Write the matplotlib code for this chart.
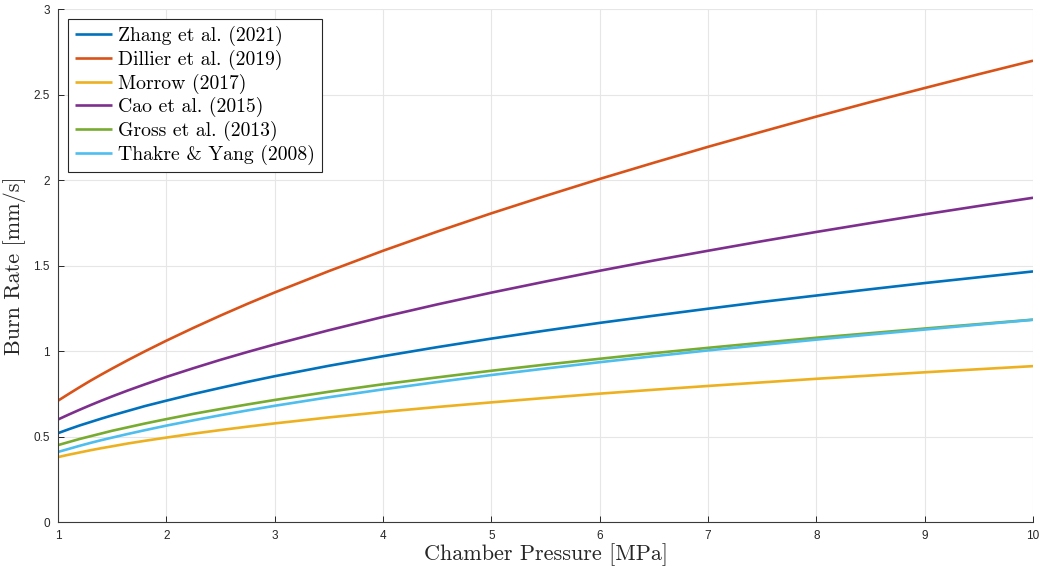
import matplotlib
matplotlib.use("Agg")
import matplotlib.pyplot as plt
from matplotlib.ticker import FuncFormatter

pressure = [1, 1.1, 1.2, 1.3, 1.4, 1.5, 1.65, 1.8, 2, 2.25, 2.5, 2.75, 3, 3.5, 4,
            4.5, 5, 5.5, 6, 6.5, 7, 7.5, 8, 8.5, 9, 9.5, 10]

zhang = [0.520, 0.543, 0.565, 0.585, 0.605, 0.624, 0.651, 0.678, 0.710, 0.749,
         0.785, 0.820, 0.853, 0.914, 0.970, 1.023, 1.073, 1.120, 1.165, 1.207,
         1.248, 1.288, 1.325, 1.362, 1.398, 1.432, 1.466]
dillier = [0.710, 0.750, 0.789, 0.827, 0.863, 0.898, 0.949, 0.998, 1.061, 1.136,
           1.208, 1.277, 1.343, 1.468, 1.587, 1.699, 1.806, 1.908, 2.007, 2.102,
           2.195, 2.284, 2.372, 2.457, 2.539, 2.620, 2.699]
morrow = [0.380, 0.394, 0.407, 0.420, 0.432, 0.443, 0.460, 0.475, 0.494, 0.517,
          0.538, 0.558, 0.577, 0.612, 0.644, 0.673, 0.700, 0.726, 0.751, 0.774,
          0.796, 0.817, 0.838, 0.857, 0.876, 0.894, 0.912]
cao = [0.600, 0.629, 0.657, 0.684, 0.710, 0.735, 0.771, 0.805, 0.849, 0.900,
       0.949, 0.995, 1.039, 1.122, 1.200, 1.273, 1.342, 1.407, 1.470, 1.530,
       1.587, 1.643, 1.697, 1.749, 1.800, 1.849, 1.897]
gross = [0.450, 0.468, 0.486, 0.502, 0.518, 0.534, 0.555, 0.576, 0.602, 0.633,
         0.661, 0.688, 0.714, 0.762, 0.806, 0.846, 0.885, 0.921, 0.955, 0.988,
         1.019, 1.049, 1.078, 1.105, 1.132, 1.158, 1.184]
thakre = [0.410, 0.428, 0.446, 0.463, 0.479, 0.494, 0.516, 0.537, 0.564, 0.595,
          0.625, 0.653, 0.680, 0.730, 0.776, 0.819, 0.860, 0.898, 0.935, 0.970,
          1.004, 1.036, 1.067, 1.097, 1.126, 1.155, 1.183]

labels = ["Zhang et al. (2021)", "Dillier et al. (2019)", "Morrow (2017)",
          "Cao et al. (2015)", "Gross et al. (2013)", "Thakre & Yang (2008)"]
colors = ["#0072BD", "#D95319", "#EDB120", "#7E2F8E", "#77AC30", "#4DBEEE"]
series = [zhang, dillier, morrow, cao, gross, thakre]

x_ticks = [1, 2, 3, 4, 5, 6, 7, 8, 9, 10]
y_ticks = [0, 0.5, 1, 1.5, 2, 2.5, 3]

plt.rcParams['font.family'] = ['Liberation Sans', 'DejaVu Sans']
SERIF = ['cmr10', 'DejaVu Serif']

fig = plt.figure(figsize=(10.42, 5.66), dpi=100)
ax = fig.add_axes([0.0557, 0.0777, 0.9357, 0.906])

for ys, lab, c in zip(series, labels, colors):
    ax.plot(pressure, ys, color=c, linewidth=1.9, label=lab,
            solid_capstyle='butt', solid_joinstyle='round')

ax.set_xlim(1, 10)
ax.set_ylim(0, 3)
ax.set_xticks(x_ticks)
ax.set_yticks(y_ticks)
ax.yaxis.set_major_formatter(FuncFormatter(lambda v, p: f"{v:g}"))
ax.grid(True, color='#e6e6e6', linewidth=0.8)
ax.set_axisbelow(True)

for s in ['top', 'right']:
    ax.spines[s].set_visible(False)
for s in ['left', 'bottom']:
    ax.spines[s].set_color('#3a3a3a')
    ax.spines[s].set_linewidth(0.8)

ax.tick_params(direction='in', length=4, width=0.7, colors='#262626',
               labelsize=8.5, pad=6)

ax.set_xlabel('Chamber Pressure [MPa]', fontsize=16, color='#262626', labelpad=1,
              family=SERIF)
ax.set_ylabel('Burn Rate [mm/s]', fontsize=16, color='#262626', labelpad=5,
              family=SERIF)

leg = ax.legend(loc='upper left', bbox_to_anchor=(0.0103, 0.9805),
                prop={'family': SERIF, 'size': 14.2},
                frameon=True, fancybox=False, handlelength=1.9, handletextpad=0.3,
                borderpad=0.35, labelspacing=0.18, borderaxespad=0.0)
leg.get_frame().set_edgecolor('#262626')
leg.get_frame().set_linewidth(0.8)
leg.get_frame().set_alpha(1)

fig.savefig('out.png', dpi=100)
